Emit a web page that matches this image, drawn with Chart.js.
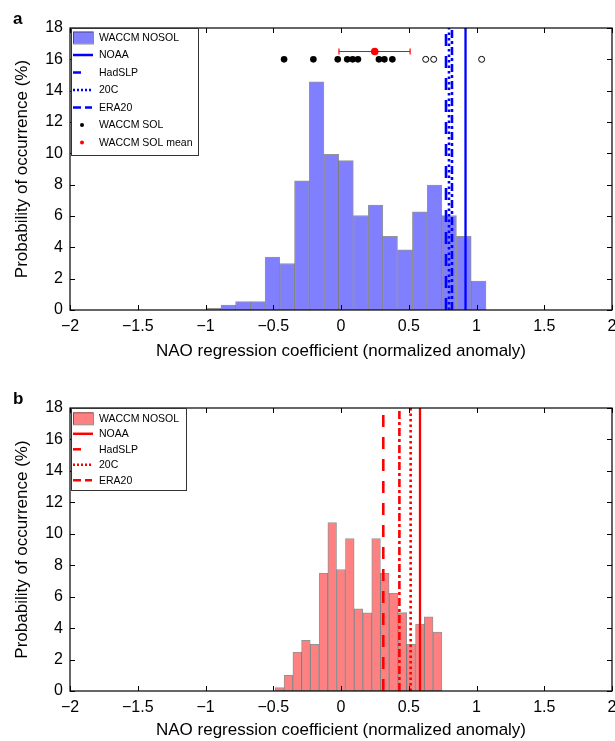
<!DOCTYPE html>
<html><head><meta charset="utf-8">
<script src="https://cdn.jsdelivr.net/npm/chart.js@4"></script>
<style>
html,body{margin:0;padding:0;background:#fff;width:615px;height:741px;overflow:hidden}
.wrap{position:absolute;left:0;width:615px}
</style></head><body>
<div class="wrap" style="top:0;height:370px"><canvas id="ca"></canvas></div>
<div class="wrap" style="top:370px;height:371px"><canvas id="cb"></canvas></div>
<script>
// ---------- data ----------
const xTickValues = [-2, -1.5, -1, -0.5, 0, 0.5, 1, 1.5, 2];
const yTickValues = [0, 2, 4, 6, 8, 10, 12, 14, 16, 18];

// Panel a: WACCM NOSOL histogram (bin centres, % occurrence)
const binCentersA = [-0.941, -0.832, -0.724, -0.615, -0.506, -0.397, -0.289, -0.180, -0.071, 0.037, 0.146, 0.255, 0.363, 0.472, 0.581, 0.690, 0.798, 0.907, 1.016];
const freqA = [0.1, 0.32, 0.53, 0.53, 3.38, 2.97, 8.24, 14.56, 9.94, 9.53, 6.03, 6.69, 4.71, 3.84, 6.26, 7.98, 6.03, 4.71, 1.85];

// Panel b: WACCM NOSOL histogram
const binCentersB = [-0.453, -0.388, -0.323, -0.259, -0.194, -0.129, -0.065, 0.000, 0.065, 0.129, 0.194, 0.259, 0.323, 0.388, 0.453, 0.517, 0.582, 0.647, 0.712];
const freqB = [0.21, 1.0, 2.48, 3.23, 2.97, 7.49, 10.72, 7.73, 9.70, 5.22, 4.97, 9.70, 7.49, 6.22, 4.99, 2.97, 4.25, 4.71, 3.74];

// Observational estimates
const obsNames = ['NOAA', 'HadSLP', '20C', 'ERA20'];
const obsA = [0.919, 0.775, 0.797, 0.819];
const obsB = [0.583, 0.312, 0.514, 0.431];

// WACCM SOL members (panel a)
const solFilledX = [-0.42, -0.204, -0.024, 0.046, 0.086, 0.125, 0.280, 0.320, 0.379];
const solOpenX = [0.625, 0.684, 1.038];
const solY = 16;
const solMean = 0.249, solMeanY = 16.5, solLow = -0.015, solHigh = 0.51;

// ---------- style ----------
Chart.defaults.font.family = "'Liberation Sans', Arial, Helvetica, sans-serif";
Chart.defaults.color = '#000';
const dashes = { NOAA: [], HadSLP: [12, 10], '20C': [2.5, 3], ERA20: [8, 3, 3, 3] };

function fmt(v){ v = Math.round(v*10)/10; return v < 0 ? '\u2212' + Math.abs(v) : String(v); }

function framePlugin(label, labelY){
  return { id: 'frame', afterDatasetsDraw(chart){
    const {ctx, chartArea: ca, scales: {x, y}} = chart;
    ctx.save();
    ctx.strokeStyle = '#000'; ctx.lineWidth = 1.2;
    ctx.strokeRect(ca.left, ca.top, ca.right - ca.left, ca.bottom - ca.top);
    ctx.lineWidth = 1;
    ctx.beginPath();
    xTickValues.forEach(v => { const px = Math.round(x.getPixelForValue(v)) + 0.5;
      ctx.moveTo(px, ca.bottom); ctx.lineTo(px, ca.bottom - 5);
      ctx.moveTo(px, ca.top); ctx.lineTo(px, ca.top + 5); });
    yTickValues.forEach(v => { const py = Math.round(y.getPixelForValue(v)) + 0.5;
      ctx.moveTo(ca.left, py); ctx.lineTo(ca.left + 5, py);
      ctx.moveTo(ca.right, py); ctx.lineTo(ca.right - 5, py); });
    ctx.stroke();
    ctx.fillStyle = '#000';
    ctx.font = "bold 17px 'Liberation Sans', Arial, sans-serif";
    ctx.textBaseline = 'alphabetic';
    ctx.fillText(label, 13, labelY);
    ctx.restore();
  }};
}

function legendPlugin(cfg){
  return { id: 'customLegend', afterDraw(chart){
    const ctx = chart.ctx;
    ctx.save();
    ctx.fillStyle = '#fff';
    ctx.fillRect(cfg.x, cfg.y, cfg.w, cfg.h);
    ctx.strokeStyle = '#333'; ctx.lineWidth = 1;
    ctx.strokeRect(cfg.x + 0.5, cfg.y + 0.5, cfg.w, cfg.h);
    ctx.font = "10.5px 'Liberation Sans', Arial, sans-serif";
    ctx.textBaseline = 'middle';
    cfg.items.forEach((it, i) => {
      const cy = cfg.y0 + i * cfg.step;
      const sx = cfg.x + 2, ex = cfg.x + 22;
      if (it.kind === 'patch') {
        ctx.fillStyle = it.fill; ctx.fillRect(sx, cy - 6, 20, 12);
        ctx.strokeStyle = 'rgba(0,0,0,0.45)'; ctx.strokeRect(sx + 0.5, cy - 6 + 0.5, 20, 12);
      } else if (it.kind === 'line') {
        ctx.strokeStyle = it.color; ctx.lineWidth = 2.5;
        ctx.beginPath();
        it.segs.forEach(s => { ctx.moveTo(sx + s[0], cy); ctx.lineTo(sx + s[1], cy); });
        ctx.stroke();
      } else if (it.kind === 'dot') {
        ctx.fillStyle = it.color; ctx.beginPath(); ctx.arc(cfg.x + 11, cy, 2, 0, Math.PI*2); ctx.fill();
      }
      ctx.fillStyle = '#000';
      ctx.fillText(it.text, cfg.x + 28, cy + 0.5);
    });
    ctx.restore();
  }};
}

function lineSegs(name){
  if (name === 'NOAA') return [[0, 20]];
  if (name === 'HadSLP') return [[0, 8]];
  if (name === '20C') return [[0,2],[4,6],[8,10],[12,14],[16,18]];
  return [[0, 8], [12, 19]];
}

function makeChart(canvasId, o){
  const datasets = [];
  datasets.push({ type: 'bar', label: 'WACCM NOSOL',
    data: o.centers.map((c, i) => ({x: c, y: o.freq[i]})),
    backgroundColor: o.fill, borderColor: 'rgba(0,0,0,0.42)', borderWidth: 1,
    borderSkipped: false, barPercentage: 1, categoryPercentage: 1, order: 10 });
  obsNames.forEach((n, i) => {
    datasets.push({ type: 'line', label: n,
      data: [{x: o.obs[i], y: 0}, {x: o.obs[i], y: 18}],
      borderColor: o.lineColor, borderWidth: n === 'NOAA' ? 2.3 : 2.6, borderDash: dashes[n],
      pointRadius: 0, order: 2 });
  });
  if (o.sol) {
    datasets.push({ type: 'scatter', label: 'WACCM SOL',
      data: solFilledX.map(v => ({x: v, y: solY})),
      pointRadius: 3.3, pointBackgroundColor: '#000', pointBorderColor: '#000', pointBorderWidth: 0, order: 1 });
    datasets.push({ type: 'scatter', label: 'WACCM SOL (open)',
      data: solOpenX.map(v => ({x: v, y: solY})),
      pointRadius: 3, pointBackgroundColor: '#fff', pointBorderColor: '#000', pointBorderWidth: 1, order: 1 });
    datasets.push({ type: 'line', label: 'WACCM SOL range',
      data: [{x: solLow, y: solMeanY}, {x: solHigh, y: solMeanY}],
      borderColor: '#f00', borderWidth: 1.2, pointStyle: 'line', pointRotation: 90,
      pointRadius: 3, pointBorderColor: '#f00', pointBorderWidth: 1.2, order: 1 });
    datasets.push({ type: 'scatter', label: 'WACCM SOL mean',
      data: [{x: solMean, y: solMeanY}],
      pointRadius: 3.8, pointBackgroundColor: '#f00', pointBorderColor: '#f00', pointBorderWidth: 0, order: 0 });
  }
  return new Chart(document.getElementById(canvasId), {
    type: 'bar',
    data: { datasets },
    options: {
      responsive: true, maintainAspectRatio: false, animation: false,
      events: [],
      layout: { padding: { top: o.padTop, right: 3, left: 0, bottom: 0 }, autoPadding: false },
      plugins: { legend: { display: false }, tooltip: { enabled: false } },
      scales: {
        x: { type: 'linear', min: -2, max: 2, offset: false,
          grid: { display: false, drawTicks: false }, border: { display: false },
          afterBuildTicks: s => { s.ticks = xTickValues.map(v => ({value: v})); },
          ticks: { callback: fmt, autoSkip: false, maxRotation: 0, font: { size: 16 }, padding: 7, color: '#000' },
          title: { display: true, text: 'NAO regression coefficient (normalized anomaly)', font: { size: 17 }, color: '#000', padding: { top: 0, bottom: o.titlePadB } },
          afterFit: s => { s.height = o.xAxisH; s.paddingLeft = 0; s.paddingRight = 0; } },
        y: { type: 'linear', min: 0, max: 18,
          grid: { display: false, drawTicks: false }, border: { display: false },
          afterBuildTicks: s => { s.ticks = yTickValues.map(v => ({value: v})); },
          ticks: { callback: v => String(v), autoSkip: false, font: { size: 16 }, padding: 7, color: '#000' },
          title: { display: true, text: 'Probability of occurrence (%)', font: { size: 17 }, color: '#000', padding: { top: 12, bottom: 0 } },
          afterFit: s => { s.width = 70; s.paddingTop = 0; s.paddingBottom = 0; } }
      }
    },
    plugins: [framePlugin(o.label, o.labelY), legendPlugin(o.legend)]
  });
}

makeChart('ca', {
  centers: binCentersA, freq: freqA, obs: obsA, fill: 'rgb(128,128,255)', lineColor: '#00f', sol: true,
  padTop: 28, xAxisH: 60, titlePadB: 8, label: 'a', labelY: 24,
  legend: { x: 71, y: 28, w: 127, h: 127, y0: 37.5, step: 17.5, items: [
    { kind: 'patch', fill: 'rgb(128,128,255)', text: 'WACCM NOSOL' },
    ...obsNames.map(n => ({ kind: 'line', color: '#00f', segs: lineSegs(n), text: n })),
    { kind: 'dot', color: '#000', text: 'WACCM SOL' },
    { kind: 'dot', color: '#f00', text: 'WACCM SOL mean' } ] }
});

makeChart('cb', {
  centers: binCentersB, freq: freqB, obs: obsB, fill: 'rgb(255,128,128)', lineColor: '#f00', sol: false,
  padTop: 38, xAxisH: 50, titlePadB: 0, label: 'b', labelY: 34,
  legend: { x: 71, y: 38, w: 115, h: 82, y0: 48.3, step: 15.5, items: [
    { kind: 'patch', fill: 'rgb(255,128,128)', text: 'WACCM NOSOL' },
    ...obsNames.map(n => ({ kind: 'line', color: '#f00', segs: lineSegs(n), text: n })) ] }
});
</script>
</body></html>
